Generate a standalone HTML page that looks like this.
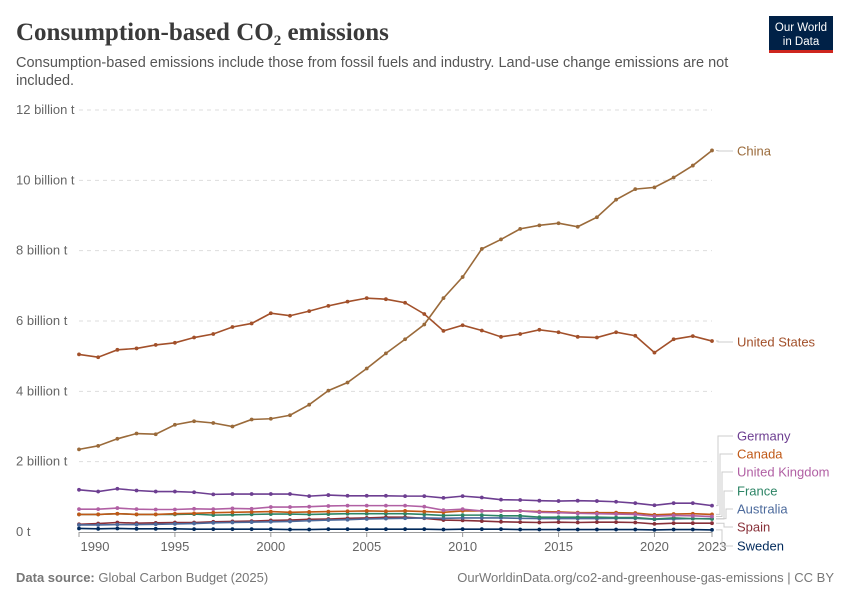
<!DOCTYPE html>
<html><head><meta charset="utf-8"><style>
body{margin:0;background:#fff;}
#wrap{position:relative;width:850px;height:600px;overflow:hidden;font-family:"Liberation Sans",sans-serif;}
</style></head><body>
<div id="wrap">
<svg id="svg" width="850" height="600" xmlns="http://www.w3.org/2000/svg">
<text x="16" y="40" font-family="Liberation Serif,serif" font-size="25" font-weight="bold" fill="#3a3a3a">Consumption-based CO<tspan font-size="15" dy="5">2</tspan><tspan dy="-5"> emissions</tspan></text>
<text x="16" y="67" font-size="14.5" fill="#555">Consumption-based emissions include those from fossil fuels and industry. Land-use change emissions are not</text>
<text x="16" y="85" font-size="14.5" fill="#555">included.</text>
<g>
<rect x="769" y="16" width="64" height="34" fill="#002147"/>
<rect x="769" y="50" width="64" height="3" fill="#ce261e"/>
<text x="801" y="31" font-size="11.5" fill="#fff" text-anchor="middle">Our World</text>
<text x="801" y="45" font-size="11.5" fill="#fff" text-anchor="middle">in Data</text>
</g>
<g id="grid"></g><g id="lines"></g><g id="legend"></g>
<text x="16" y="582" font-size="13" fill="#777"><tspan font-weight="bold">Data source:</tspan> Global Carbon Budget (2025)</text>
<text x="834" y="582" font-size="13" fill="#777" text-anchor="end">OurWorldinData.org/co2-and-greenhouse-gas-emissions | CC BY</text>
</svg>
</div>
<script>
const years=[];for(let y=1990;y<=2023;y++)years.push(y);
const yTicks=[0,2,4,6,8,10,12];
const yTickLabels=["0 t","2 billion t","4 billion t","6 billion t","8 billion t","10 billion t","12 billion t"];
const xTicks=[1990,1995,2000,2005,2010,2015,2020,2023];
const china=[2.35,2.45,2.65,2.8,2.78,3.05,3.15,3.1,3.0,3.2,3.22,3.32,3.62,4.02,4.25,4.65,5.08,5.48,5.9,6.65,7.25,8.05,8.32,8.62,8.72,8.78,8.68,8.95,9.45,9.75,9.8,10.08,10.42,10.85];
const us=[5.05,4.97,5.18,5.22,5.32,5.38,5.53,5.63,5.83,5.93,6.22,6.15,6.28,6.43,6.55,6.65,6.62,6.52,6.2,5.72,5.88,5.73,5.55,5.63,5.75,5.68,5.55,5.53,5.68,5.58,5.1,5.48,5.57,5.43];
const germany=[1.2,1.15,1.23,1.18,1.15,1.15,1.13,1.07,1.08,1.08,1.08,1.08,1.02,1.05,1.03,1.03,1.03,1.02,1.02,0.97,1.02,0.98,0.92,0.91,0.89,0.88,0.89,0.88,0.86,0.82,0.76,0.82,0.82,0.75];
const uk=[0.65,0.65,0.68,0.65,0.64,0.64,0.66,0.65,0.67,0.66,0.71,0.71,0.72,0.74,0.75,0.75,0.75,0.75,0.72,0.62,0.65,0.6,0.6,0.6,0.56,0.55,0.53,0.52,0.51,0.5,0.45,0.47,0.46,0.44];
const canada=[0.5,0.5,0.52,0.5,0.5,0.52,0.53,0.55,0.56,0.57,0.58,0.56,0.57,0.58,0.59,0.6,0.59,0.6,0.58,0.56,0.6,0.6,0.6,0.6,0.58,0.57,0.55,0.55,0.55,0.54,0.49,0.51,0.52,0.5];
const france=[0.5,0.5,0.52,0.5,0.5,0.5,0.51,0.48,0.49,0.5,0.51,0.51,0.5,0.51,0.52,0.52,0.52,0.52,0.5,0.47,0.48,0.48,0.46,0.46,0.42,0.42,0.42,0.42,0.41,0.41,0.37,0.4,0.38,0.37];
const australia=[0.2,0.2,0.21,0.21,0.22,0.23,0.24,0.26,0.27,0.28,0.29,0.3,0.32,0.34,0.35,0.37,0.38,0.39,0.4,0.39,0.4,0.4,0.4,0.39,0.38,0.38,0.38,0.38,0.39,0.39,0.36,0.37,0.38,0.38];
const spain=[0.22,0.24,0.27,0.25,0.26,0.27,0.27,0.29,0.3,0.31,0.33,0.34,0.36,0.37,0.39,0.4,0.42,0.42,0.39,0.34,0.33,0.31,0.29,0.28,0.27,0.28,0.27,0.28,0.28,0.27,0.23,0.25,0.25,0.25];
const sweden=[0.1,0.09,0.1,0.09,0.09,0.09,0.08,0.08,0.08,0.08,0.08,0.07,0.07,0.08,0.08,0.08,0.08,0.08,0.08,0.07,0.08,0.08,0.08,0.07,0.07,0.07,0.07,0.07,0.07,0.07,0.06,0.07,0.07,0.06];
const seriesNames=["Sweden","Spain","Australia","France","Canada","United Kingdom","Germany","United States","China"];
const seriesData=[sweden,spain,australia,france,canada,uk,germany,us,china];
const seriesColors=["#00295b","#883039","#4c6a9c","#2c8465","#c05917","#b160a4","#6d3e91","#a2502a","#9a6a3a"];
const NS="http://www.w3.org/2000/svg";
const X=y=>79+(y-1990)*(712-79)/33;
const Y=v=>532-v*(532-110)/12;
function mk(tag,attrs,parent,text){const e=document.createElementNS(NS,tag);for(const k in attrs)e.setAttribute(k,attrs[k]);if(text!==undefined)e.textContent=text;parent.appendChild(e);return e;}
const grid=document.getElementById('grid'),lines=document.getElementById('lines'),legend=document.getElementById('legend');
yTicks.forEach((t,i)=>{
  if(t>0){const l=mk('line',{x1:79,x2:712,y1:Y(t),y2:Y(t),stroke:'#ddd','stroke-dasharray':'4,4'},grid);
  
  }
  const tx=mk('text',{x:16,y:Y(t)+4,'font-size':13,fill:'#666'},grid,yTickLabels[i]);
  
  
});
const ax=mk('line',{x1:79,x2:712,y1:532.5,y2:532.5,stroke:'#999'},grid);


xTicks.forEach(t=>{
  const tk=mk('line',{x1:X(t),x2:X(t),y1:532,y2:537,stroke:'#999'},grid);
  
  
  let cx=X(t); if(t===1990)cx=95;
  const tx=mk('text',{x:cx,y:551,'font-size':13,fill:'#666','text-anchor':'middle'},grid,String(t));
  
  
});
seriesData.forEach((d,si)=>{
  const g=mk('g',{},lines);
  
  
  mk('polyline',{points:d.map((v,i)=>X(years[i])+','+Y(v)).join(' '),fill:'none',stroke:seriesColors[si],'stroke-width':1.6},g);
  d.forEach((v,i)=>{const c=mk('circle',{cx:X(years[i]),cy:Y(v),r:1.9,fill:seriesColors[si]},g);
    
    });
});
const labelY={"China":151,"United States":342,"Germany":436,"Canada":454,"United Kingdom":472,"France":491,"Australia":509,"Spain":527,"Sweden":546};
const elbowX={"Germany":718,"Canada":720,"United Kingdom":722,"France":724,"Australia":726,"Spain":724,"Sweden":722,"China":718,"United States":718};
seriesNames.forEach((n,si)=>{
  const d=seriesData[si];const y0=Y(d[d.length-1]);const ly=labelY[n];const ex=elbowX[n];
  const p=mk('polyline',{points:`716,${y0} ${ex},${y0} ${ex},${ly} 733,${ly}`,fill:'none',stroke:'#ccc','stroke-width':1},legend);
  
  
  const t=mk('text',{x:737,y:ly+4.5,'font-size':13,fill:seriesColors[si]},legend,n);
  
  
});
</script>
</body></html>
